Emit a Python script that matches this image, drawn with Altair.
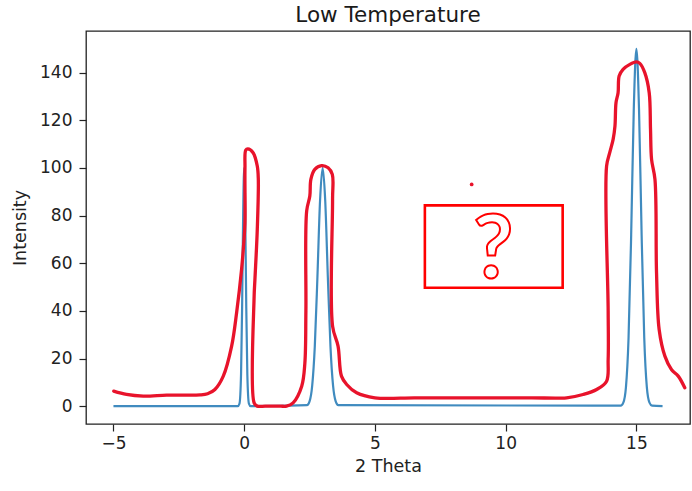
import altair as alt
import pandas as pd

# ---- data ----
blue_x = [-5.0, -0.25, -0.18, -0.12, -0.08, -0.04, 0.0, 0.04, 0.08, 0.12, 0.18, 0.25,
          2.4, 2.5, 2.6, 2.7, 2.8, 2.9, 3.0, 3.1, 3.2, 3.3, 3.4, 3.5, 3.6,
          14.4, 14.5, 14.6, 14.7, 14.8, 14.9, 15.0, 15.1, 15.2, 15.3, 15.4, 15.5, 15.6, 16.0]
blue_y = [0.0, 0.0, 1.1, 13.5, 41, 80, 100, 80, 41, 13.5, 1.1, 0.0,
          0.4, 2, 8.5, 25, 54, 86, 100, 86, 54, 25, 8.5, 2, 0.4,
          0.2, 1.5, 7.9, 28.7, 71.9, 124.8, 150, 124.8, 71.9, 28.7, 7.9, 1.5, 0.2, 0.0]

red_x = [-4.99, -4.5, -3.86, -2.97, -2.3, -1.69, -1.4, -1.12, -0.8, -0.48, -0.29, -0.1, -0.02, 0.03, 0.03, 0.06,
         0.14, 0.34, 0.5, 0.54, 0.5, 0.41, 0.38, 0.38, 0.5, 0.8, 1.1, 1.4, 1.62, 1.87, 2.2, 2.32, 2.36, 2.39,
         2.51, 2.55, 2.7, 2.96, 3.21, 3.37, 3.38, 3.38, 3.59, 3.72, 3.92, 4.3, 5.0, 6.5, 8.0, 9.5,
         11.0, 12.33,
         12.96, 13.48, 13.86, 13.92, 13.92, 13.86, 13.98, 14.11, 14.18, 14.22, 14.3, 14.34,
         14.49, 14.75, 15.0, 15.13, 15.32, 15.49, 15.54, 15.58, 15.71, 15.77, 15.87, 16.09,
         16.34, 16.6, 16.85]
red_y = [6.3, 4.9, 4.2, 4.6, 4.6, 4.7, 5.2, 7.0, 12.6, 25.2, 39.2, 57.4, 68, 77, 100, 107.5,
         108, 106.4, 100.8, 95.2, 74, 53, 46, 1.4, 0.0, 0.0, 0.0, 0.0, 0.0, 1.4, 8.4, 18, 40, 82,
         88.2, 95.2, 99.4, 101, 100.1, 97.3, 86.8, 33.6, 25.2, 12.6, 9.1, 5.6, 3.5, 3.5, 3.5, 3.5,
         3.5, 3.5,
         4.9, 7.0, 10.5, 19.6, 40, 100.8, 106.4, 112, 117.6, 127.4, 131.6, 138.6,
         141.4, 143.5, 144.5, 143.9, 140, 131.6, 116.2, 103.6, 95.2, 56, 32.2, 21,
         15.4, 12.6, 7.7]

box_x = [6.91]
box_x2 = [12.18]
box_y = [49.7]
box_y2 = [84.3]
qmark_x = [9.52]
qmark_y = [54.0]
dot_x = [8.7]
dot_y = [93.1]

X_DOMAIN = [-6.05, 17.05]
Y_DOMAIN = [-7.5, 157.5]
x_ticks = [-5, 0, 5, 10, 15]
y_ticks = [0, 20, 40, 60, 80, 100, 120, 140]

FONT = "DejaVu Sans"
RED = "#e8132b"

blue_df = pd.DataFrame({"x": blue_x, "y": blue_y})
red_df = pd.DataFrame({"x": red_x, "y": red_y, "i": list(range(len(red_x)))})
box_df = pd.DataFrame({"x": box_x, "x2": box_x2, "y": box_y, "y2": box_y2})
q_df = pd.DataFrame({"x": qmark_x, "y": qmark_y, "t": ["?"]})
dot_df = pd.DataFrame({"x": dot_x, "y": dot_y})

xs = alt.Scale(domain=X_DOMAIN, nice=False, zero=False)
ys = alt.Scale(domain=Y_DOMAIN, nice=False, zero=False)

x_axis = alt.Axis(values=x_ticks, title="2 Theta", format="d")
y_axis = alt.Axis(values=y_ticks, title="Intensity", format="d")

blue = alt.Chart(blue_df).mark_line(
    color="#1f77b4", strokeWidth=2.2, opacity=0.85, interpolate="monotone", clip=True
).encode(
    x=alt.X("x:Q", scale=xs, axis=x_axis),
    y=alt.Y("y:Q", scale=ys, axis=y_axis),
)

red = alt.Chart(red_df).mark_line(
    color=RED, strokeWidth=3.3, strokeJoin="round", strokeCap="round", clip=True,
    interpolate="catmull-rom"
).encode(
    x=alt.X("x:Q", scale=xs),
    y=alt.Y("y:Q", scale=ys),
    order="i:Q",
)

box = alt.Chart(box_df).mark_rect(
    fill=None, fillOpacity=0, stroke="#ff0000", strokeWidth=2.6
).encode(
    x=alt.X("x:Q", scale=xs), x2="x2:Q",
    y=alt.Y("y:Q", scale=ys), y2="y2:Q",
)

qmark = alt.Chart(q_df).mark_text(
    font="Lato", fontSize=88, fontWeight="bold", fill="white", stroke="#ff0000",
    strokeWidth=2, baseline="alphabetic", align="center"
).encode(
    x=alt.X("x:Q", scale=xs),
    y=alt.Y("y:Q", scale=ys),
    text="t:N",
)

dot = alt.Chart(dot_df).mark_circle(color=RED, size=14, opacity=1).encode(
    x=alt.X("x:Q", scale=xs),
    y=alt.Y("y:Q", scale=ys),
)

chart = alt.layer(blue, red, box, qmark, dot).properties(
    width=604,
    height=393,
    autosize=alt.AutoSizeParams(type="none"),
    padding={"left": 86, "top": 31, "right": 2, "bottom": 67},
    title=alt.TitleParams(
        "Low Temperature", font=FONT, fontSize=21.5, fontWeight="normal",
        color="#1a1a1a", anchor="middle", offset=5,
    ),
).configure_view(
    stroke="#222", strokeWidth=1.3
).configure_axis(
    domain=False, grid=False,
    tickColor="#222", tickSize=7, tickWidth=1.2,
    labelFont=FONT, labelFontSize=17, labelColor="#222",
    titleFont=FONT, titleFontSize=17.5, titleFontWeight="normal", titleColor="#222",
).configure_axisX(
    labelPadding=4, titlePadding=6,
).configure_axisY(
    labelPadding=7, titlePadding=10,
)

chart.save("out.html", embed_options={"renderer": "svg", "actions": False})
